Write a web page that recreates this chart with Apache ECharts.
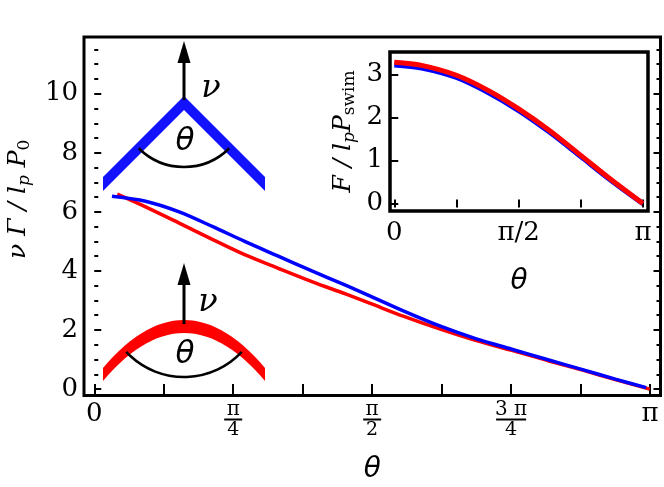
<!DOCTYPE html>
<html>
<head>
<meta charset="utf-8">
<script src="https://cdn.jsdelivr.net/npm/echarts@6/dist/echarts.min.js"></script>
<style>
html, body { margin: 0; padding: 0; background: #fff; }
#main { width: 664px; height: 487px; }
</style>
</head>
<body>
<div id="main"></div>
<script>
var PI = Math.PI;

// main plot: blue = kinked (V) filament, red = bent arc
var blueTheta = [0.10, 0.29, 0.48, 0.67, 0.85, 1.04, 1.23, 1.42, 1.56, 1.75, 1.96, 2.16, 2.36, 2.56, 2.76, 2.95, 3.12];
var blueV     = [6.53, 6.36, 6.00, 5.50, 5.00, 4.50, 4.00, 3.52, 3.15, 2.64, 2.12, 1.70, 1.35, 1.00, 0.66, 0.33, 0.05];
var redTheta  = [0.13, 0.29, 0.48, 0.67, 0.85, 1.04, 1.23, 1.42, 1.56, 1.75, 1.96, 2.16, 2.36, 2.56, 2.76, 2.95, 3.14];
var redV      = [6.60, 6.17, 5.62, 5.06, 4.55, 4.09, 3.64, 3.22, 2.90, 2.46, 2.02, 1.64, 1.31, 0.97, 0.64, 0.31, 0.00];

// inset: force
var insetTheta = [0, 0.345, 0.785, 1.185, 1.571, 1.96, 2.356, 2.75, 3.14];
var insetBlue  = [3.22, 3.15, 2.93, 2.58, 2.16, 1.66, 1.09, 0.52, 0.00];
var insetRed   = [3.28, 3.21, 2.98, 2.63, 2.20, 1.70, 1.12, 0.54, 0.00];

// ticks
var xTicks = [0, PI / 8, PI / 4, 3 * PI / 8, PI / 2, 5 * PI / 8, 3 * PI / 4, 7 * PI / 8, PI];
var xLabelVals = [0, PI / 4, PI / 2, 3 * PI / 4, PI];
var xLabels = ['{a|0}', '{n|π}\n{bar|}\n{d|4}', '{n|π}\n{bar|}\n{d|2}', '{n|3 π}\n{bar3|}\n{d|4}', '{a|π}'];
var yMajor = [0, 2, 4, 6, 8, 10];
var yMinor = [0.5, 1, 1.5, 2.5, 3, 3.5, 4.5, 5, 5.5, 6.5, 7, 7.5, 8.5, 9, 9.5, 10.5, 11, 11.5];
var insetXTicks = [0, PI / 4, PI / 2, 3 * PI / 4, PI];
var insetXLabelVals = [0, PI / 2, PI];
var insetXLabels = ['0', 'π/2', 'π'];
var insetYTicks = [0, 1, 2, 3];

var SERIF = 'DejaVu Serif';

function pairs(xs, ys) {
    return xs.map(function (x, i) { return [x, ys[i]]; });
}

function pick(vals, labels) {
    return function (v) {
        for (var i = 0; i < vals.length; i++) {
            if (Math.abs(vals[i] - v) < 1e-6) return labels[i];
        }
        return '';
    };
}

function axis(gi, pos, min, max, ticks, len, label) {
    return {
        type: 'value', gridIndex: gi, position: pos, min: min, max: max,
        axisLine: { show: false },
        splitLine: { show: false },
        axisTick: { show: true, inside: true, length: len, customValues: ticks,
            lineStyle: { color: '#000', width: 2 } },
        axisLabel: label || { show: false }
    };
}

// thick bent band for the arc sketch (quadratic curve, vertical thickness t)
function bentBand(x0, x1, yEnd, yCtl, t) {
    var top = [], bot = [];
    for (var k = 0; k <= 30; k++) {
        var s = k / 30;
        var x = (1 - s) * (1 - s) * x0 + 2 * s * (1 - s) * (x0 + x1) / 2 + s * s * x1;
        var y = (1 - s) * (1 - s) * yEnd + 2 * s * (1 - s) * yCtl + s * s * yEnd;
        top.push([x, y]);
        bot.unshift([x, y + t]);
    }
    return top.concat(bot);
}

var chart = echarts.init(document.getElementById('main'), null, { renderer: 'canvas' });

var mainXMin = -0.058, mainXMax = PI + 0.059;
var mainYMin = -0.217, mainYMax = 11.92;
var inXMin = -0.054, inXMax = PI + 0.063;
var inYMin = -0.172, inYMax = 3.52;

var xMain = axis(0, 'bottom', mainXMin, mainXMax, xTicks, 5, {
    show: true, customValues: xLabelVals, margin: 5, color: '#000',
    formatter: pick(xLabelVals, xLabels),
    rich: {
        a: { fontFamily: SERIF, fontSize: 26, lineHeight: 28, align: 'center', color: '#000' },
        n: { fontFamily: SERIF, fontSize: 20, lineHeight: 18, align: 'center', color: '#000' },
        bar: { width: 18, height: 2, lineHeight: 2, fontSize: 2, backgroundColor: '#000', align: 'center' },
        bar3: { width: 30, height: 2, lineHeight: 2, fontSize: 2, backgroundColor: '#000', align: 'center' },
        d: { fontFamily: SERIF, fontSize: 19, lineHeight: 20, align: 'center', color: '#000' }
    }
});
xMain.name = 'θ';
xMain.nameLocation = 'middle';
xMain.nameGap = 60;
xMain.nameTextStyle = { fontFamily: 'DejaVu Sans', fontStyle: 'italic', fontSize: 28, color: '#000' };

var yMain = axis(0, 'left', mainYMin, mainYMax, yMajor, 7, {
    show: true, customValues: yMajor, margin: 6, color: '#000',
    fontFamily: SERIF, fontSize: 26
});
yMain.name = '{i|ν Γ / l}{sp|p}{i| P}{s|0}';
yMain.nameLocation = 'middle';
yMain.nameGap = 51;
yMain.nameRotate = 90;
yMain.nameTextStyle = {
    padding: [0, 0, 0, 34],
    rich: {
        i: { fontFamily: SERIF, fontStyle: 'italic', fontSize: 25, lineHeight: 30, color: '#000' },
        sp: { fontFamily: SERIF, fontStyle: 'italic', fontSize: 17, lineHeight: 16, verticalAlign: 'bottom', color: '#000' },
        s: { fontFamily: SERIF, fontSize: 17, lineHeight: 16, verticalAlign: 'bottom', color: '#000' }
    }
};

var xIn = axis(1, 'bottom', inXMin, inXMax, insetXTicks, 4, {
    show: true, customValues: insetXLabelVals, margin: 9, color: '#000',
    fontFamily: SERIF, fontSize: 26,
    formatter: pick(insetXLabelVals, insetXLabels)
});
xIn.name = 'θ';
xIn.nameLocation = 'middle';
xIn.nameGap = 57;
xIn.nameTextStyle = { fontFamily: 'DejaVu Sans', fontStyle: 'italic', fontSize: 28, color: '#000' };

var yIn = axis(1, 'left', inYMin, inYMax, insetYTicks, 4, {
    show: true, customValues: insetYTicks, margin: 7, color: '#000',
    fontFamily: SERIF, fontSize: 26
});
yIn.name = '{i|F / l}{sp|p}{i|P}{s|swim}';
yIn.nameLocation = 'middle';
yIn.nameGap = 32;
yIn.nameRotate = 90;
yIn.nameTextStyle = {
    rich: {
        i: { fontFamily: SERIF, fontStyle: 'italic', fontSize: 25, lineHeight: 30, color: '#000' },
        sp: { fontFamily: SERIF, fontStyle: 'italic', fontSize: 17, lineHeight: 16, verticalAlign: 'bottom', color: '#000' },
        s: { fontFamily: SERIF, fontSize: 17, lineHeight: 16, verticalAlign: 'bottom', color: '#000' }
    }
};

var textStyle = function (txt, x, y, font) {
    return { text: txt, x: x, y: y, font: font, fill: '#000',
        align: 'center', verticalAlign: 'middle', textAlign: 'center', textVerticalAlign: 'middle' };
};

var option = {
    animation: false,
    backgroundColor: '#fff',
    grid: [
        { left: 84, top: 37, right: 3.5, bottom: 91.5, show: true, borderColor: '#000', borderWidth: 3,
          backgroundColor: 'transparent', containLabel: false, outerBoundsMode: 'none' },
        { left: 390, top: 52, width: 258, height: 159, show: true, borderColor: '#000', borderWidth: 3.5,
          backgroundColor: '#fff', containLabel: false, outerBoundsMode: 'none' }
    ],
    xAxis: [
        xMain,
        axis(0, 'top', mainXMin, mainXMax, xTicks, 5),
        xIn,
        axis(1, 'top', inXMin, inXMax, insetXTicks, 4)
    ],
    yAxis: [
        yMain,
        axis(0, 'left', mainYMin, mainYMax, yMinor, 4),
        axis(0, 'right', mainYMin, mainYMax, yMajor, 7),
        axis(0, 'right', mainYMin, mainYMax, yMinor, 4),
        yIn,
        axis(1, 'right', inYMin, inYMax, insetYTicks, 4)
    ],
    series: [
        { type: 'line', name: 'arc', xAxisIndex: 0, yAxisIndex: 0, data: pairs(redTheta, redV),
          showSymbol: false, smooth: 0.3, lineStyle: { color: '#ff0000', width: 3.5 }, z: 3 },
        { type: 'line', name: 'kink', xAxisIndex: 0, yAxisIndex: 0, data: pairs(blueTheta, blueV),
          showSymbol: false, smooth: 0.3, lineStyle: { color: '#0000ff', width: 3.5 }, z: 4 },
        { type: 'line', name: 'kink F', xAxisIndex: 2, yAxisIndex: 4, data: pairs(insetTheta, insetBlue),
          showSymbol: false, smooth: 0.3, lineStyle: { color: '#0000ff', width: 5 }, z: 5 },
        { type: 'line', name: 'arc F', xAxisIndex: 2, yAxisIndex: 4, data: pairs(insetTheta, insetRed),
          showSymbol: false, smooth: 0.3, lineStyle: { color: '#ff0000', width: 5 }, z: 6 }
    ],
    graphic: [
        // kinked filament sketch
        { type: 'polygon', z: 10, shape: { points: [[103, 177], [184, 96], [265, 177], [265, 191], [184, 110], [103, 191]] },
          style: { fill: '#1212ff' } },
        { type: 'line', z: 11, shape: { x1: 184, y1: 100, x2: 184, y2: 60 }, style: { stroke: '#000', lineWidth: 3 } },
        { type: 'polygon', z: 11, shape: { points: [[184, 41], [177.5, 63], [190.5, 63]] }, style: { fill: '#000' } },
        { type: 'arc', z: 11, shape: { cx: 184, cy: 103, r: 64, startAngle: PI / 4, endAngle: 3 * PI / 4, clockwise: true },
          style: { stroke: '#000', lineWidth: 2.5, fill: null } },
        { type: 'text', z: 11, style: textStyle('ν', 211, 89, 'italic 32px "DejaVu Serif"') },
        { type: 'text', z: 11, style: textStyle('θ', 185, 142, 'italic 31px "DejaVu Sans"') },
        // arc filament sketch
        { type: 'polygon', z: 10, shape: { points: bentBand(103, 265, 368, 272, 13) }, style: { fill: '#ff0000' } },
        { type: 'line', z: 11, shape: { x1: 184, y1: 324, x2: 184, y2: 282 }, style: { stroke: '#000', lineWidth: 3 } },
        { type: 'polygon', z: 11, shape: { points: [[184, 263], [177.5, 285], [190.5, 285]] }, style: { fill: '#000' } },
        { type: 'arc', z: 11, shape: { cx: 184, cy: 298, r: 79, startAngle: 43 * PI / 180, endAngle: 137 * PI / 180, clockwise: true },
          style: { stroke: '#000', lineWidth: 2.5, fill: null } },
        { type: 'text', z: 11, style: textStyle('ν', 208, 303, 'italic 32px "DejaVu Serif"') },
        { type: 'text', z: 11, style: textStyle('θ', 185, 355, 'italic 31px "DejaVu Sans"') }
    ]
};

chart.setOption(option);
</script>
</body>
</html>
